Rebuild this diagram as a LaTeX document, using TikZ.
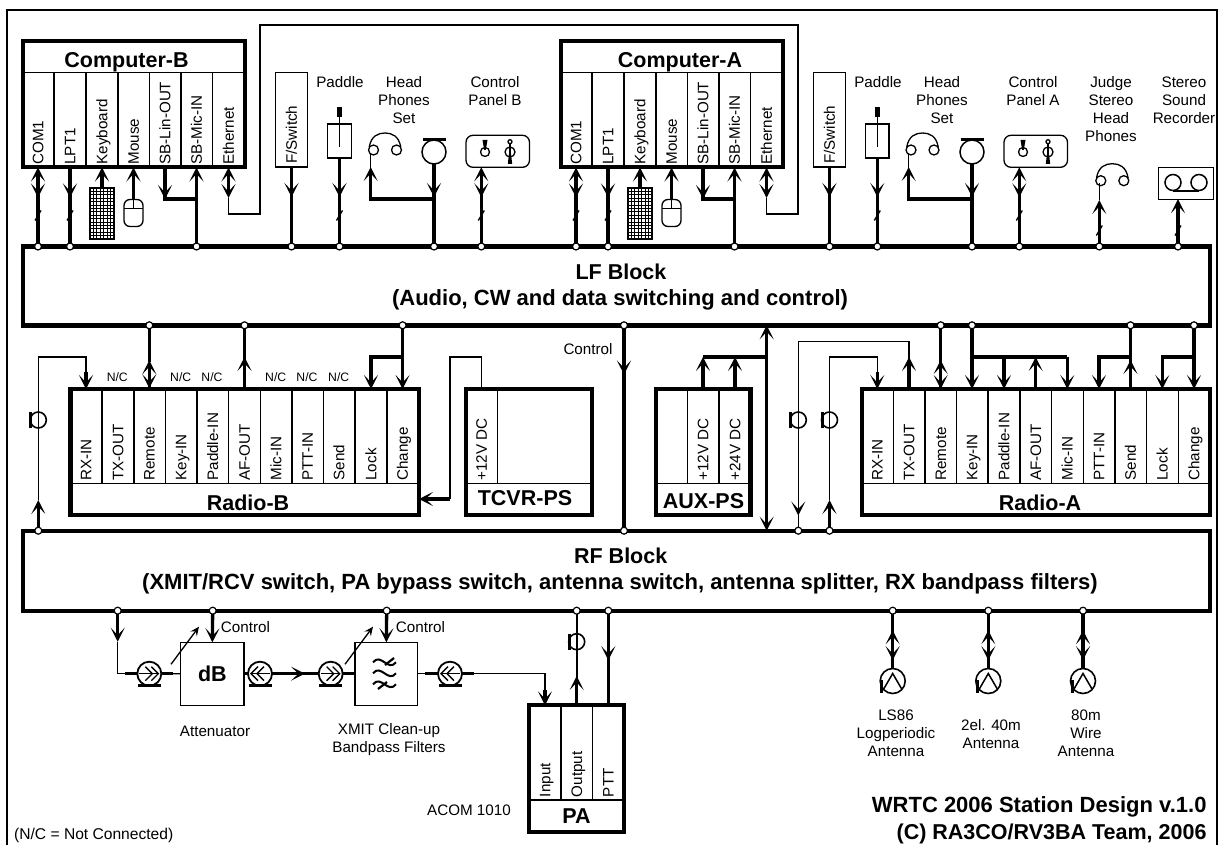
\documentclass[tikz,border=0pt]{standalone}
\usepackage{fontspec}
\setmainfont{Liberation Sans}
\usetikzlibrary{arrows.meta,decorations.markings,calc}
\newcommand{\fsm}{\fontsize{15.2}{18}\selectfont}
\newcommand{\fbg}{\fontsize{21.5}{27}\selectfont\bfseries}
\newcommand{\fbs}{\fontsize{22}{27}\selectfont\bfseries}
\newcommand{\ftn}{\fontsize{12.2}{14}\selectfont}
\tikzset{
  bigtip/.tip={Stealth[length=14pt,width=14pt,inset=7.5pt]},
  >=bigtip,
  thk/.style={line width=3.3pt,line cap=butt,line join=miter},
  med/.style={line width=2.2pt},
  thn/.style={line width=1.3pt},
  fw/.style={postaction={decorate,decoration={markings,mark=at position #1 with {\arrow{bigtip}}}}},
  bk/.style={postaction={decorate,decoration={markings,mark=at position #1 with {\arrowreversed{bigtip}}}}},
  busdot/.style={circle,draw,fill=white,line width=1.2pt,inner sep=0pt,minimum size=7pt,outer sep=0pt},
  cellbox/.style={draw,line width=1.3pt,rotate=90,anchor=east,inner sep=0pt,outer sep=0pt,minimum height=31.7pt,text height=10.6pt,text depth=0pt,font=\fsm},
  bigbox/.style={draw,line width=4.2pt,inner sep=0pt,outer sep=0pt,anchor=north west},
  thinbox/.style={draw,line width=1.3pt,inner sep=0pt,outer sep=0pt,anchor=north west},
  bus/.style={draw,line width=4.2pt,inner sep=0pt,outer sep=0pt,anchor=north west,align=center,font=\fbg},
  lab/.style={font=\fsm,align=center,inner sep=0pt},
  nc/.style={font=\ftn,inner sep=0pt},
  ttl/.style={font=\fbg,inner sep=0pt},
  ttb/.style={font=\fbs,inner sep=0pt},
  sym/.style={circle,draw,line width=1.5pt,inner sep=0pt,outer sep=0pt},
}
\newcommand{\pcell}[5]{\node[cellbox,minimum width=#4pt] (#1) at (#2,#3) {\makebox[#4pt][l]{\hspace{3pt}#5}};}
\newcommand{\bdot}[3]{\node[busdot] (#1) at (#2,#3) {};}
\newcommand{\tickm}[2]{\draw[thn] (#1) ++(-3,#2+5) -- ++(6,-10);}
\newcommand{\headset}[3]{%
  \node[sym,minimum size=10pt,line width=1.3pt] (#1l) at ({#2-11.5},{#3}) {};
  \node[sym,minimum size=10pt,line width=1.3pt] (#1r) at ({#2+11.5},{#3}) {};
  \draw[thn] (#1l.150) .. controls ({#2-14},{#3-14}) and ({#2-7},{#3-17}) .. ({#2},{#3-17}) .. controls ({#2+7},{#3-17}) and ({#2+14},{#3-14}) .. (#1r.30);}
\newcommand{\paddlesym}[2]{%
  \node[thinbox,minimum width=23.5pt,minimum height=34pt,anchor=north] (#1) at ({#2},124) {};
  \fill ({#2-2.2},107) rectangle ({#2+2.2},117.5);
  \draw[thn] ({#2},117) -- ({#2},147.5);}
\newcommand{\micsym}[2]{%
  \node[sym,minimum size=24pt,line width=1.5pt] (#1) at ({#2},152) {};
  \draw[line width=2.6pt] ({#2-11.5},139.7) -- ({#2+11.5},139.7);}
\newcommand{\cpanel}[3]{%
  \node[thinbox,rounded corners=7pt,minimum width=63.5pt,minimum height=32pt] (#1) at ({#2},135.3) {};
  \draw[thn] ({#2+19},152) circle[radius=4.5pt];
  \fill ({#2+16.5},140) -- ({#2+21.5},140) -- ({#2+19.8},150) -- ({#2+18.2},150) -- cycle;
  \draw[thn] ({#2+44},141.7) circle[radius=2pt];
  \draw[thn] ({#2+44},143.7) -- ({#2+44},152);
  \draw[thn] ({#2+44},152) circle[radius=5pt];
  \fill ({#2+43.2},152) -- ({#2+44.8},152) -- ({#2+46.2},164) -- ({#2+41.8},164) -- cycle;}
\newcommand{\kbdsym}[2]{%
  \node[thinbox,minimum width=24pt,minimum height=51pt,anchor=north west] (#1) at ({#2-12},188) {};
  \foreach \i in {1,...,6} {\draw[line width=.8pt] ({#2-12+3.43*\i},188) -- ({#2-12+3.43*\i},239);}
  \foreach \j in {1,...,14} {\draw[line width=.8pt] ({#2-12},{188+3.4*\j}) -- ({#2+12},{188+3.4*\j});}}
\newcommand{\mousesym}[2]{%
  \node[thinbox,rounded corners=6pt,minimum width=19pt,minimum height=27pt,anchor=north] (#1) at ({#2},199.5) {};
  \draw[thn] ({#2-9.5},208.5) -- ({#2+9.5},208.5);
  \draw[thn] ({#2},199.5) -- ({#2},208.5);}
\newcommand{\loopsym}[3]{%
  \node[sym,minimum size=16pt,line width=1.6pt] (#1) at ({#2},{#3}) {};
  \draw[line width=3pt] ({#2-7.5},{#3-8}) -- ({#2-7.5},{#3+8});}
\newcommand{\coax}[4]{%
  \node[sym,minimum size=24pt,line width=1.8pt] (#1) at ({#2},{#3}) {};
  \draw[line width=2.6pt] ({#2-11.5},{#3+11.5}) -- ({#2+11.5},{#3+11.5});
  \begin{scope}[shift={(#2,#3)},xscale=#4]
    \draw[line width=1.4pt] (-10,0) -- (9,0);
    \draw[line width=1.4pt] (-4,-7) -- (3,0) -- (-4,7);
    \draw[line width=1.4pt] (2,-7) -- (9,0) -- (2,7);
  \end{scope}}
\newcommand{\antsym}[2]{%
  \node[sym,minimum size=25pt,line width=1.6pt] (#1) at ({#2},681) {};
  \draw[thn,line width=1.5pt] ({#2-9},689) -- ({#2},673.5) -- ({#2+9},689);
  \draw[line width=3pt] ({#2-11},680) -- ({#2-11},692.7);}
\begin{document}
\begin{tikzpicture}[x=1pt,y=-1pt]
\useasboundingbox (0,0) rectangle (1227,845);
\fill[white] (0,0) rectangle (1227,845);
\node[thinbox,minimum width=1210pt,minimum height=840pt] (frame) at (7,10) {};

% ---- blocks
\node[bus,minimum width=1187pt,minimum height=79pt] (lf) at (23.3,246.5) {};
\node[ttl] (lft1) at (621,272) {LF Block};
\node[ttb] (lft2) at (620,299.5) {(Audio, CW and data switching and control)};
\node[bus,minimum width=1187pt,minimum height=80pt] (rf) at (23.3,530.7) {};
\node[ttl] (rft1) at (620.7,555.7) {RF Block};
\node[ttb] (rft2) at (620,584) {(XMIT/RCV switch, PA bypass switch, antenna switch, antenna splitter, RX bandpass filters)};

% ---- computers
\pcell{bcom}{38}{72.5}{95}{COM1}
\pcell{blpt}{70}{72.5}{95}{LPT1}
\pcell{bkey}{102}{72.5}{95}{Keyboard}
\pcell{bmou}{133.5}{72.5}{95}{Mouse}
\pcell{blin}{165}{72.5}{95}{SB-Lin-OUT}
\pcell{bmic}{196.5}{72.5}{95}{SB-Mic-IN}
\pcell{beth}{228.5}{72.5}{95}{Ethernet}
\node[bigbox,minimum width=222pt,minimum height=126pt] (compb) at (22.7,41.2) {};
\node[ttl] (compbt) at (126.5,62) {Computer-B};

\pcell{acom}{576}{72.5}{95}{COM1}
\pcell{alpt}{608}{72.5}{95}{LPT1}
\pcell{akey}{640}{72.5}{95}{Keyboard}
\pcell{amou}{671.5}{72.5}{95}{Mouse}
\pcell{alin}{703}{72.5}{95}{SB-Lin-OUT}
\pcell{amic}{734.5}{72.5}{95}{SB-Mic-IN}
\pcell{aeth}{766.5}{72.5}{95}{Ethernet}
\node[bigbox,minimum width=222pt,minimum height=126pt] (compa) at (560.7,41.2) {};
\node[ttl] (compat) at (680,62) {Computer-A};

% ---- top devices
\node[cellbox,minimum width=94.5pt] (fsb) at (291.5,72.5) {\makebox[94.5pt][l]{\hspace{3pt}F/Switch}};
\node[cellbox,minimum width=94.5pt] (fsa) at (829.5,72.5) {\makebox[94.5pt][l]{\hspace{3pt}F/Switch}};
\node[lab] (lpb) at (340,82) {Paddle};
\paddlesym{pb}{339.5}
\node[lab] (lpa) at (878,82) {Paddle};
\paddlesym{pa}{877.3}
\node[lab] (lhb) at (404,100) {Head\\Phones\\Set};
\headset{hb}{385}{150}
\node[lab] (lha) at (942,100) {Head\\Phones\\Set};
\headset{ha}{922.5}{150}
\micsym{mb}{434}
\micsym{ma}{972}
\node[lab] (lcb) at (495,91) {Control\\Panel B};
\cpanel{cb}{466}{}
\node[lab] (lca) at (1033,91) {Control\\Panel A};
\cpanel{ca}{1004}{}
\node[lab] (lj) at (1111,109) {Judge\\Stereo\\Head\\Phones};
\headset{hj}{1112.3}{180.7}
\node[lab] (lr) at (1184,100) {Stereo\\Sound\\Recorder};
\node[thinbox,minimum width=55pt,minimum height=31.5pt] (rec) at (1158.7,167.7) {};
\draw[thn,line width=1.5pt] (1173,182.5) circle[radius=8pt];
\draw[thn,line width=1.5pt] (1199,182.5) circle[radius=8pt];
\draw[line width=2pt] (1173,191) -- (1199,191);

\kbdsym{kb}{102}
\mousesym{mob}{133.5}
\kbdsym{ka}{640}
\mousesym{moa}{671.5}

% ---- LF top dots
\bdot{d1}{38}{246.5}
\bdot{d2}{70}{246.5}
\bdot{d3}{196.5}{246.5}
\bdot{d4}{291.5}{246.5}
\bdot{d5}{339.5}{246.5}
\bdot{d6}{434}{246.5}
\bdot{d7}{481.3}{246.5}
\bdot{d8}{576}{246.5}
\bdot{d9}{608}{246.5}
\bdot{d10}{734.5}{246.5}
\bdot{d11}{829.5}{246.5}
\bdot{d12}{877.3}{246.5}
\bdot{d13}{972}{246.5}
\bdot{d14}{1019.3}{246.5}
\bdot{d15}{1099.3}{246.5}
\bdot{d16}{1178}{246.5}

% ---- top connectors
\draw[thk,<-,fw=30pt] (bcom.west) -- (d1);
\draw[thk,fw=30pt] (blpt.west) -- (d2);
\draw[thk,<-] (bkey.west) -- (kb.north);
\draw[thk,<-] (bmou.west) -- (mob.north);
\coordinate (bj) at (196.5,199);
\draw[thk] (blin.west) |- (bj);
\draw[thk,->] (blin.west) -- ++(0,31.5);
\draw[thk,<-] (bmic.west) -- (d3);
\coordinate (et1) at (228.5,198);
\coordinate (et2) at (766.5,198);
\draw[thk,<->] (beth.west) -- (et1);
\draw[thn] (et1) -- ++(0,16) -- (260,214) -- (260,25) -- (798,25) -- (798,214) -- (766.5,214) -- (et2);
\draw[thk,<->] (aeth.west) -- (et2);
\draw[thk,fw=30pt] (fsb.west) -- (d4);
\draw[thk,fw=39pt] (pb.south) -- (d5);
\draw[thk,fw=33pt] (mb.south) -- (d6);
\coordinate (hbf) at (370.7,153);
\coordinate (hbj) at (370.7,199);
\draw[thn] (hbf) -- (hbj);
\draw[thk,->] (mb.south |- hbj) -- (hbj) -- (370.7,167);
\draw[thk,<-,fw=30pt] (cb.south -| d7) -- (d7);

\draw[thk,<-,fw=30pt] (acom.west) -- (d8);
\draw[thk,fw=30pt] (alpt.west) -- (d9);
\draw[thk,<-] (akey.west) -- (ka.north);
\draw[thk,<-] (amou.west) -- (moa.north);
\coordinate (aj) at (734.5,199);
\draw[thk] (alin.west) |- (aj);
\draw[thk,->] (alin.west) -- ++(0,31.5);
\draw[thk,<-] (amic.west) -- (d10);
\draw[thk,fw=30pt] (fsa.west) -- (d11);
\draw[thk,fw=39pt] (pa.south) -- (d12);
\draw[thk,fw=33pt] (ma.south) -- (d13);
\coordinate (haf) at (908.7,153);
\coordinate (haj) at (908.7,199);
\draw[thn] (haf) -- (haj);
\draw[thk,->] (ma.south |- haj) -- (haj) -- (908.7,167);
\draw[thk,<-,fw=30pt] (ca.south -| d14) -- (d14);
\coordinate (hjf) at (1099.3,183);
\coordinate (hjt) at (1099.3,200);
\draw[thn] (hjf) -- (hjt);
\draw[thk,<-] (hjt) -- (d15);
\draw[thk,<-] (rec.south -| d16) -- (d16);

\tickm{d1}{-31}
\tickm{d2}{-31}
\tickm{d5}{-31}
\tickm{d7}{-31}
\tickm{d8}{-31}
\tickm{d9}{-31}
\tickm{d12}{-31}
\tickm{d14}{-31}
\tickm{d15}{-16}
\tickm{d16}{-16}

% ---- Radio-B
\pcell{rbrx}{86}{389}{94.5}{RX-IN}
\pcell{rbtx}{118}{389}{94.5}{TX-OUT}
\pcell{rbre}{149.3}{389}{94.5}{Remote}
\pcell{rbke}{181}{389}{94.5}{Key-IN}
\pcell{rbpa}{212.7}{389}{94.5}{Paddle-IN}
\pcell{rbaf}{244.5}{389}{94.5}{AF-OUT}
\pcell{rbmi}{276}{389}{94.5}{Mic-IN}
\pcell{rbpt}{307.6}{389}{94.5}{PTT-IN}
\pcell{rbse}{339}{389}{94.5}{Send}
\pcell{rblo}{371}{389}{94.5}{Lock}
\pcell{rbch}{402.6}{389}{94.5}{Change}
\node[bigbox,minimum width=348.5pt,minimum height=126pt] (radb) at (70.5,389) {};
\node[ttl] (radbt) at (248,502.5) {Radio-B};
\node[nc] (nc1) at (117.3,377) {N/C};
\node[nc] (nc2) at (180.7,377) {N/C};
\node[nc] (nc3) at (212,377) {N/C};
\node[nc] (nc4) at (275.7,377) {N/C};
\node[nc] (nc5) at (307,377) {N/C};
\node[nc] (nc6) at (338.7,377) {N/C};

% ---- TCVR-PS
\pcell{tc}{481.5}{389}{94.5}{+12V DC}
\node[bigbox,minimum width=126pt,minimum height=126pt] (tcvr) at (466.3,389) {};
\draw[thn] (tcvr.west |- tc.west) -- (tcvr.east |- tc.west);
\draw[line width=2pt] (496.7,389) -- (tc.south east);
\node[ttl] (tcvrt) at (525,498.5) {TCVR-PS};

% ---- AUX-PS
\node[cellbox,minimum width=94.5pt,minimum height=31.5pt] (axb) at (672,389) {};
\pcell{ax1}{703}{389}{94.5}{+12V DC}
\pcell{ax2}{735}{389}{94.5}{+24V DC}
\node[bigbox,minimum width=94.2pt,minimum height=126pt] (aux) at (656.3,389) {};
\node[ttl] (auxt) at (703.5,501) {AUX-PS};

% ---- Radio-A
\pcell{rarx}{877.3}{389}{94.5}{RX-IN}
\pcell{ratx}{909}{389}{94.5}{TX-OUT}
\pcell{rare}{940.7}{389}{94.5}{Remote}
\pcell{rake}{972}{389}{94.5}{Key-IN}
\pcell{rapa}{1004}{389}{94.5}{Paddle-IN}
\pcell{raaf}{1035.7}{389}{94.5}{AF-OUT}
\pcell{rami}{1067.3}{389}{94.5}{Mic-IN}
\pcell{rapt}{1099}{389}{94.5}{PTT-IN}
\pcell{rase}{1130.5}{389}{94.5}{Send}
\pcell{ralo}{1162.3}{389}{94.5}{Lock}
\pcell{rach}{1194}{389}{94.5}{Change}
\node[bigbox,minimum width=348.5pt,minimum height=126pt] (rada) at (861.7,389) {};
\node[ttl] (radat) at (1040,502.5) {Radio-A};

% ---- LF bottom dots
\bdot{e1}{149.3}{325.3}
\bdot{e2}{244.5}{325.3}
\bdot{e3}{402.6}{325.3}
\bdot{e4}{624}{325.3}
\bdot{e5}{940.7}{325.3}
\bdot{e6}{972}{325.3}
\bdot{e7}{1130.5}{325.3}
\bdot{e8}{1194}{325.3}
% ---- RF top dots
\bdot{f1}{38.3}{530.7}
\bdot{f2}{624}{530.7}
\bdot{f3}{798.3}{530.7}
\bdot{f4}{829.5}{530.7}
% ---- RF bottom dots
\bdot{g1}{117.7}{610.7}
\bdot{g2}{212.7}{610.7}
\bdot{g3}{386.7}{610.7}
\bdot{g4}{576.7}{610.7}
\bdot{g5}{608.3}{610.7}
\bdot{g6}{892.7}{610.7}
\bdot{g7}{988.3}{610.7}
\bdot{g8}{1083}{610.7}

% ---- Radio-B connectors
\loopsym{lb}{38.3}{420}
\coordinate (rbv) at (38.3,500);
\draw[thk,->] (f1) -- (rbv);
\draw[thn] (rbv) |- (86,357) -- (86,375);
\draw[thk,->] (86,372) -- (rbrx.east);
\draw[thk,<-,fw=28pt] (e1) ++(0,35) -- (rbre.east);
\draw[thk] (e1) -- (149.3,362);
\draw[med] (e2) -- (244.5,365);
\draw[thk,->] (rbaf.east) -- (244.5,357);
\draw[thk,->] (e3) -- (rbch.east);
\draw[thk,->] (e3 |- 0,357) -| (rblo.east);
% ---- TCVR to Radio-B
\coordinate (tcl) at (450,499);
\draw[thn] (tc.east) -- (481.5,357) -| (tcl);
\draw[thk,->] (tcl) -- (radb.east |- tcl);
% ---- Control line
\draw[thk,fw=45.7pt] (e4) -- (f2);
\node[lab] (lctl) at (588,349) {Control};
% ---- AUX
\coordinate (auxj) at (766.7,357);
\coordinate (auxu) at (766.7,325.3);
\coordinate (auxd) at (766.7,530.7);
\draw[thk,<->] (auxu) -- (auxd);
\draw[thk] (auxj) -- (703,357);
\draw[thk,->] (ax1.east) -- (703,357);
\draw[thk,->] (ax2.east) -- (735,357);
% ---- Radio-A connectors
\loopsym{la}{798.3}{420}
\loopsym{lc}{829.5}{420}
\coordinate (tx1) at (798.3,515.5);
\draw[thn] (f3) -- (tx1);
\draw[thn] (909,370) |- (798.3,341.7) -- (tx1);
\draw[thn,->] (798.3,500) -- (tx1);
\draw[thk,->] (ratx.east) -- (909,357);
\coordinate (rav) at (829.5,500);
\draw[thk,->] (f4) -- (rav);
\draw[thn] (rav) |- (877.3,357) -- (877.3,375);
\draw[thk,->] (877.3,372) -- (rarx.east);
\draw[thk,->] (e5) -- (rare.east);
\draw[thk,<-] (940.7,360) -- (rare.east);
\draw[thk,->] (e6) -- (rake.east);
\draw[thk] (e6 |- 0,357) -- (1067.3,357);
\draw[thk,->] (1004,357) -- (rapa.east);
\draw[thk,->] (1067.3,357) -- (rami.east);
\draw[thk,->] (raaf.east) -- (1035.7,357);
\draw[thk] (e7) -- (1130.5,365);
\draw[thk,->] (rase.east) -- (1130.5,360);
\draw[thk,->] (1130.5,357) -| (rapt.east);
\draw[thk,->] (e8) -- (rach.east);
\draw[thk,->] (1194,357) -| (ralo.east);

% ---- RF bottom chain
\coax{c1}{149.3}{673.7}{1}
\coax{c2}{260}{673.7}{-1}
\coax{c3}{330.7}{673.7}{1}
\coax{c4}{450}{673.7}{-1}
\node[thinbox,minimum width=63.3pt,minimum height=63pt,font=\fbg] (att) at (180.7,642.3) {dB};
\node[thinbox,minimum width=62.7pt,minimum height=63pt] (flt) at (355,642.3) {};
\foreach \k in {-11,0,11} {\draw[line width=2pt] (373,{673.3+\k}) .. controls (381,{673.3+\k-10}) and (388,{673.3+\k+10}) .. (396,{673.3+\k});}
\draw[line width=2.2pt] (385,665) -- (394,658);
\draw[line width=2.2pt] (378,689) -- (387,682);
\coordinate (a1t) at (117.7,641.7);
\draw[thk,->] (g1) -- (a1t);
\draw[thn] (a1t) |- (c1.west);
\draw[thk] (c1.west) -- ++(-12,0);
\draw[thk] (c1.east) -- ++(12,0);
\draw[thn] (c1.east) -- (att.west);
\draw[thk,->] (g2) -- (att.north);
\node[lab,anchor=west] (lc1) at (220.7,626.7) {Control};
\draw[thn,->,>={Stealth[length=9pt,width=8pt,inset=3.5pt]}] (171,664.3) -- (199,626.7);
\draw[thk] (att.east |- c2.west) -- (c2.west);
\draw[thk,fw=33pt] (c2.east) -- (c3.west);
\draw[thk] (c3.east) -- (flt.west |- c3.east);
\draw[thk,->] (g3) -- (flt.north);
\node[lab,anchor=west] (lc2) at (395.7,626.7) {Control};
\draw[thn,->,>={Stealth[length=9pt,width=8pt,inset=3.5pt]}] (345,664.3) -- (373,626.7);
\draw[thn] (flt.east |- c4.west) -- (c4.west);
\draw[thk] (c4.west) -- ++(-13,0);
\draw[thk] (c4.east) -- ++(12,0);
\node[lab] (latt) at (215,731) {Attenuator};
\node[lab] (lflt) at (389,740) {XMIT Clean-up\\Bandpass Filters};

% ---- PA
\pcell{pin}{545}{705.3}{94.7}{Input}
\pcell{pou}{576.7}{705.3}{94.7}{Output}
\pcell{ppt}{608.3}{705.3}{94.7}{PTT}
\node[bigbox,minimum width=94.7pt,minimum height=126.4pt] (pwr) at (529.3,705.3) {};
\node[ttl] (pat) at (576.5,816) {PA};
\node[lab] (lac) at (469,810) {ACOM 1010};
\coordinate (pt) at (545,690);
\draw[thn] (c4.east) -| (pt);
\draw[thk,->] (pt) -- (pin.east);
\loopsym{lp}{576.7}{641.7}
\draw[med] (g4) -- (576.7,685);
\draw[thk,->] (pou.east) -- (576.7,676);
\draw[thk,fw=46pt] (g5) -- (ppt.east);

% ---- antennas
\antsym{an1}{892.7}
\antsym{an2}{988.3}
\antsym{an3}{1083}
\draw[thk,bk=16pt,fw=46pt] (g6) -- (an1.north);
\draw[thk,bk=16pt,fw=46pt] (g7) -- (an2.north);
\draw[thk,bk=16pt,fw=46pt] (g8) -- (an3.north);
\node[lab] (lan1) at (896,733) {LS86\\Logperiodic\\Antenna};
\node[lab] (lan2) at (991,734) {2el. 40m\\Antenna};
\node[lab] (lan3) at (1086,733) {80m\\Wire\\Antenna};

% ---- credits
\node[ttb,anchor=east] (cr1) at (1206.7,806.7) {WRTC 2006 Station Design v.1.0};
\node[ttl,anchor=east] (cr2) at (1206.7,834.3) {(C) RA3CO/RV3BA Team, 2006};
\node[font=\fontsize{15.6}{18}\selectfont,inner sep=0pt,anchor=west] (ncn) at (14,835) {(N/C = Not Connected)};
\end{tikzpicture}
\end{document}
